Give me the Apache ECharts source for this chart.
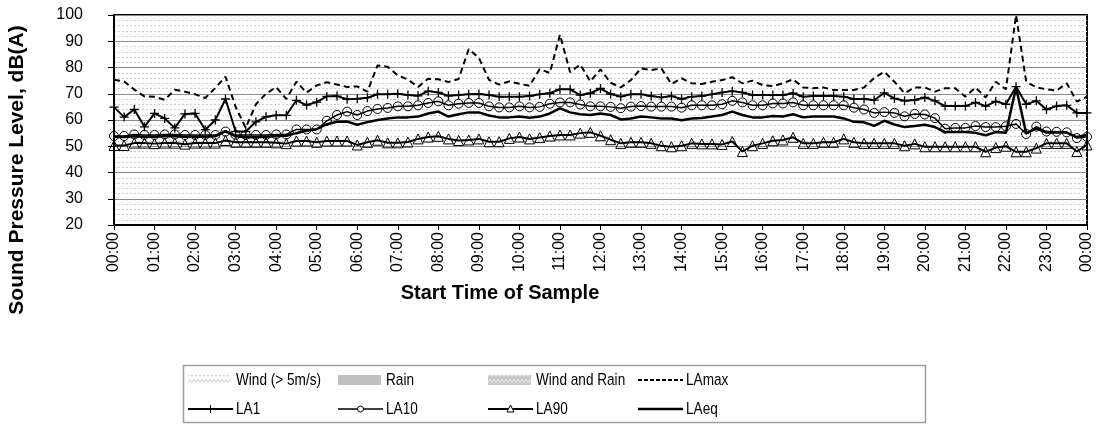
<!DOCTYPE html>
<html>
<head>
<meta charset="utf-8">
<script src="https://cdn.jsdelivr.net/npm/echarts@6/dist/echarts.min.js"></script>
<style>
  html, body { margin: 0; padding: 0; background: #fff; }
  #chart { width: 1103px; height: 424px; }
</style>
</head>
<body>
<div id="chart"></div>
<script>
// 15-minute sample start times over one day
const timeLabels = [
  '00:00','00:15','00:30','00:45','01:00','01:15','01:30','01:45',
  '02:00','02:15','02:30','02:45','03:00','03:15','03:30','03:45',
  '04:00','04:15','04:30','04:45','05:00','05:15','05:30','05:45',
  '06:00','06:15','06:30','06:45','07:00','07:15','07:30','07:45',
  '08:00','08:15','08:30','08:45','09:00','09:15','09:30','09:45',
  '10:00','10:15','10:30','10:45','11:00','11:15','11:30','11:45',
  '12:00','12:15','12:30','12:45','13:00','13:15','13:30','13:45',
  '14:00','14:15','14:30','14:45','15:00','15:15','15:30','15:45',
  '16:00','16:15','16:30','16:45','17:00','17:15','17:30','17:45',
  '18:00','18:15','18:30','18:45','19:00','19:15','19:30','19:45',
  '20:00','20:15','20:30','20:45','21:00','21:15','21:30','21:45',
  '22:00','22:15','22:30','22:45','23:00','23:15','23:30','23:45',
  '00:00'
];

// Sound pressure levels, dB(A)
const laMax = [
  75.3, 74.7, 71.6, 69.0, 68.9, 67.7, 71.5, 70.8, 69.8, 68.4,
  72.2, 76.5, 65.0, 57.0, 66.0, 70.0, 72.5, 68.0, 74.6, 70.4,
  73.2, 74.4, 73.5, 72.6, 72.8, 70.8, 80.8, 80.3, 77.0, 75.4,
  72.6, 75.7, 75.5, 74.5, 75.6, 87.0, 83.7, 75.3, 73.5, 74.7,
  73.8, 73.0, 79.4, 77.9, 92.5, 78.2, 81.1, 74.7, 79.3, 74.2,
  72.4, 75.2, 79.7, 79.0, 79.7, 73.7, 75.9, 74.0, 73.7, 74.6,
  75.2, 76.3, 74.0, 75.0, 73.3, 72.9, 74.0, 75.5, 72.4, 72.1,
  72.4, 71.4, 71.4, 71.4, 72.4, 76.0, 78.4, 74.6, 70.2, 72.4,
  72.4, 70.8, 72.1, 72.1, 68.9, 72.4, 68.6, 74.6, 71.7, 100.0,
  74.6, 72.4, 71.7, 71.2, 74.0, 67.0, 68.9
];
const la1 = [
  64.9, 61.1, 64.0, 57.4, 62.5, 60.6, 57.0, 62.3, 62.5, 56.3,
  60.0, 68.0, 55.6, 55.6, 59.3, 61.2, 61.8, 61.8, 67.5, 65.7,
  66.8, 69.0, 69.1, 67.9, 68.1, 68.5, 69.8, 69.8, 70.0, 69.5,
  69.2, 71.0, 70.5, 69.2, 69.5, 69.8, 69.9, 69.5, 68.9, 68.9,
  68.9, 69.1, 69.8, 70.2, 71.7, 71.7, 69.5, 70.2, 72.0, 69.9,
  68.9, 69.8, 69.8, 69.1, 68.6, 69.1, 68.0, 68.9, 69.1, 69.8,
  70.5, 71.0, 70.5, 69.5, 69.5, 69.5, 69.5, 70.2, 68.9, 69.1,
  69.1, 69.1, 68.9, 68.0, 68.0, 67.6, 70.3, 68.2, 67.3, 67.6,
  68.6, 67.3, 65.3, 65.3, 65.3, 66.7, 65.3, 67.1, 66.0, 72.7,
  66.0, 67.3, 64.0, 65.3, 65.6, 62.7, 62.7
];
const la10 = [
  53.9, 53.9, 54.5, 54.3, 54.3, 54.5, 54.5, 54.3, 54.3, 54.3,
  54.3, 55.6, 54.3, 54.3, 54.3, 54.3, 54.5, 54.5, 56.4, 56.4,
  56.4, 59.7, 61.9, 63.2, 61.9, 63.4, 64.2, 64.6, 65.2, 65.2,
  65.6, 66.5, 67.1, 65.6, 66.2, 66.5, 66.5, 65.2, 64.8, 64.8,
  65.2, 64.8, 65.0, 66.2, 66.7, 66.7, 65.9, 65.2, 65.2, 65.0,
  64.5, 65.1, 65.3, 65.1, 65.1, 65.1, 64.7, 65.6, 65.6, 65.6,
  66.0, 67.3, 66.7, 65.6, 65.6, 66.3, 66.3, 66.7, 65.6, 65.6,
  65.6, 65.6, 65.6, 64.7, 64.0, 62.7, 63.0, 62.7, 61.4, 62.3,
  62.1, 60.7, 56.7, 57.0, 57.0, 57.7, 57.3, 57.3, 57.6, 58.5,
  54.7, 57.5, 55.6, 55.5, 55.3, 53.1, 53.6
];
const la90 = [
  50.3, 50.3, 51.2, 51.2, 51.0, 51.2, 51.2, 50.8, 51.2, 51.2,
  51.2, 52.2, 51.5, 51.5, 51.5, 51.5, 51.3, 51.0, 52.0, 52.0,
  51.5, 52.0, 52.0, 52.0, 50.5, 51.5, 52.3, 51.3, 51.3, 51.6,
  52.8, 53.5, 53.8, 52.8, 52.2, 52.4, 52.8, 51.7, 51.7, 53.0,
  53.5, 52.8, 53.3, 53.9, 54.3, 54.3, 55.0, 55.3, 54.0, 52.5,
  51.1, 51.5, 51.5, 51.1, 50.2, 49.8, 50.2, 51.1, 50.9, 50.9,
  50.7, 51.8, 48.0, 50.2, 51.1, 52.1, 52.4, 53.4, 51.1, 51.1,
  51.5, 51.5, 52.8, 51.5, 51.1, 51.1, 51.1, 51.1, 50.2, 50.9,
  49.8, 49.8, 49.8, 49.8, 49.8, 49.8, 47.9, 49.5, 50.0, 47.9,
  47.9, 49.3, 51.1, 51.1, 51.1, 48.0, 50.5
];
const laEq = [
  53.5, 53.5, 53.8, 53.6, 53.6, 53.8, 53.8, 53.6, 53.6, 53.6,
  53.8, 55.8, 53.8, 53.4, 53.4, 53.6, 53.8, 54.0, 55.0, 55.9,
  56.5, 58.4, 59.3, 59.4, 58.2, 59.2, 60.0, 60.6, 61.0, 61.0,
  61.3, 62.5, 63.2, 61.3, 62.2, 62.9, 62.9, 61.7, 61.0, 61.0,
  61.3, 60.9, 61.3, 62.5, 64.4, 62.9, 62.2, 61.9, 62.5, 61.9,
  60.2, 60.6, 61.3, 61.0, 60.6, 60.6, 59.9, 60.6, 60.8, 61.3,
  61.9, 63.2, 61.9, 61.0, 61.0, 61.5, 61.3, 62.2, 61.0, 61.3,
  61.3, 61.3, 60.6, 59.3, 59.1, 57.8, 59.7, 58.3, 57.3, 57.7,
  58.2, 57.3, 55.4, 55.4, 55.4, 55.1, 54.2, 55.4, 55.1, 72.4,
  54.9, 56.8, 55.2, 55.2, 55.2, 53.5, 54.3
];

// Axis range
const yMin = 20, yMax = 100, yStep = 10;

const FONT = '"Liberation Sans", Arial, sans-serif';

// Hatch fills used by the weather-condition legend keys
function zigzag(bg, fg) {
  const c = document.createElement('canvas');
  c.width = 8; c.height = 6;
  const g = c.getContext('2d');
  g.fillStyle = bg; g.fillRect(0, 0, 8, 6);
  g.strokeStyle = fg; g.lineWidth = 1;
  g.beginPath();
  g.moveTo(0, 4.5); g.lineTo(2, 1.5); g.lineTo(4, 4.5); g.lineTo(6, 1.5); g.lineTo(8, 4.5);
  g.stroke();
  return { image: c, repeat: 'repeat' };
}

const plusSymbol = 'path://M4,0L4,8M0,4L8,4';

// ---- legend box: keys drawn as graphic elements in a 4 x 2 grid ----
const keyCols = [188, 338, 488, 638];
const keyRows = [380, 409];
const keyW = 45;

function keyText(text, col, row) {
  return {
    type: 'text', x: keyCols[col] + keyW + 3, y: keyRows[row], scaleX: 0.8,
    style: { text: text, fill: '#000', font: '17px ' + FONT, align: 'left', verticalAlign: 'middle' }
  };
}
function keySwatch(fill, col, row) {
  return {
    type: 'rect', shape: { x: keyCols[col], y: keyRows[row] - 5, width: keyW - 2, height: 10 },
    style: { fill: fill, stroke: 'none' }
  };
}
function keyLine(col, row, width, dash) {
  return {
    type: 'line',
    shape: { x1: keyCols[col], y1: keyRows[row], x2: keyCols[col] + keyW, y2: keyRows[row] },
    style: { stroke: '#000', lineWidth: width, lineDash: dash || null }
  };
}
const cx = (col) => keyCols[col] + keyW / 2;

const legendGraphics = [
  {
    type: 'rect', shape: { x: 183.5, y: 365.5, width: 742, height: 57 },
    style: { fill: '#fff', stroke: '#a0a0a0', lineWidth: 1.5 }
  },
  keySwatch(zigzag('#ffffff', '#cfcfcf'), 0, 0), keyText('Wind (> 5m/s)', 0, 0),
  keySwatch('#c0c0c0', 1, 0), keyText('Rain', 1, 0),
  keySwatch(zigzag('#c8c8c8', '#ececec'), 2, 0), keyText('Wind and Rain', 2, 0),
  keyLine(3, 0, 2, [4, 2]), keyText('LAmax', 3, 0),
  keyLine(0, 1, 2),
  { type: 'line', shape: { x1: cx(0), y1: keyRows[1] - 4, x2: cx(0), y2: keyRows[1] + 4 },
    style: { stroke: '#000', lineWidth: 1 } },
  keyText('LA1', 0, 1),
  keyLine(1, 1, 1.5),
  { type: 'circle', shape: { cx: cx(1), cy: keyRows[1], r: 3 },
    style: { fill: '#fff', stroke: '#000', lineWidth: 1 } },
  keyText('LA10', 1, 1),
  keyLine(2, 1, 2),
  { type: 'polygon', shape: { points: [[cx(2), keyRows[1] - 4], [cx(2) + 3.5, keyRows[1] + 3], [cx(2) - 3.5, keyRows[1] + 3]] },
    style: { fill: '#fff', stroke: '#000', lineWidth: 1 } },
  keyText('LA90', 2, 1),
  keyLine(3, 1, 2.5), keyText('LAeq', 3, 1)
];

const chart = echarts.init(document.getElementById('chart'), null, { renderer: 'canvas' });

function levelSeries(name, data, opts) {
  return Object.assign({
    name: name,
    type: 'line',
    data: data,
    showAllSymbol: true,
    animation: false,
    z: 3
  }, opts);
}

chart.setOption({
  animation: false,
  backgroundColor: '#ffffff',
  grid: {
    left: 114, right: 16, top: 15, bottom: 199,
    show: true, borderColor: '#000', borderWidth: 2, backgroundColor: 'transparent'
  },
  xAxis: {
    type: 'category',
    data: timeLabels,
    boundaryGap: false,
    axisLine: { lineStyle: { color: '#000', width: 2 } },
    axisTick: { interval: 3, length: 5, lineStyle: { color: '#000', width: 1 } },
    axisLabel: {
      interval: 3, rotate: 90, margin: 7,
      fontFamily: FONT, fontSize: 16, color: '#000'
    },
    splitLine: { show: false }
  },
  yAxis: {
    type: 'value',
    min: yMin, max: yMax, interval: yStep,
    axisLine: { show: true, lineStyle: { color: '#000', width: 2 } },
    axisTick: { show: true, length: 6, lineStyle: { color: '#000', width: 1 } },
    axisLabel: { margin: 31, fontFamily: FONT, fontSize: 16, color: '#000' },
    splitLine: { show: true, lineStyle: { color: '#8c8c8c', width: 1 } },
    minorTick: { show: false, splitNumber: 5 },
    minorSplitLine: { show: true, lineStyle: { color: '#cfcfcf', width: 1, type: [2, 2] } }
  },
  graphic: [
    {
      type: 'text', x: 17, y: 170, rotation: Math.PI / 2,
      style: {
        text: 'Sound Pressure Level, dB(A)', fill: '#000',
        font: 'bold 21px ' + FONT, align: 'center', verticalAlign: 'middle'
      }
    },
    {
      type: 'text', x: 500, y: 293,
      style: {
        text: 'Start Time of Sample', fill: '#000',
        font: 'bold 20px ' + FONT, align: 'center', verticalAlign: 'middle'
      }
    }
  ].concat(legendGraphics),
  series: [
    levelSeries('LAmax', laMax, {
      symbol: 'none',
      itemStyle: { color: '#000' },
      lineStyle: { color: '#000', width: 2, type: [6, 4] }
    }),
    levelSeries('LA1', la1, {
      symbol: plusSymbol, symbolSize: 9,
      itemStyle: { color: '#000', borderColor: '#000', borderWidth: 1.3 },
      lineStyle: { color: '#000', width: 2 }
    }),
    levelSeries('LA10', la10, {
      symbol: 'circle', symbolSize: 9,
      itemStyle: { color: 'rgba(255,255,255,0)', borderColor: '#000', borderWidth: 1 },
      lineStyle: { color: '#000', width: 1.5 }
    }),
    levelSeries('LA90', la90, {
      symbol: 'triangle', symbolSize: [10, 10],
      itemStyle: { color: 'rgba(255,255,255,0)', borderColor: '#000', borderWidth: 1 },
      lineStyle: { color: '#000', width: 2 }
    }),
    levelSeries('LAeq', laEq, {
      symbol: 'none',
      itemStyle: { color: '#000' },
      lineStyle: { color: '#000', width: 2.5 }
    })
  ]
});
</script>
</body>
</html>
